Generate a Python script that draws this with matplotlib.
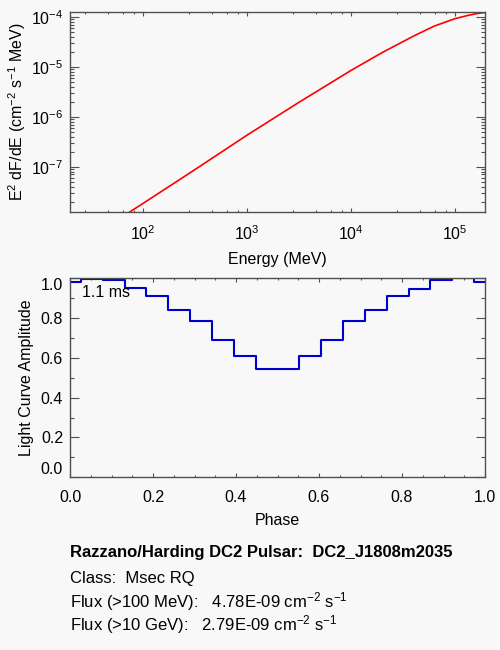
import numpy as np
import matplotlib
matplotlib.use("Agg")
import matplotlib.pyplot as plt
from matplotlib.ticker import FixedLocator, MultipleLocator, NullFormatter

plt.rcParams['font.family'] = ['Liberation Sans', 'DejaVu Sans']
plt.rcParams['mathtext.fontset'] = 'custom'
plt.rcParams['mathtext.rm'] = 'Liberation Sans'
plt.rcParams['mathtext.it'] = 'Liberation Sans'
plt.rcParams['mathtext.bf'] = 'Liberation Sans:bold'

# --- spectrum (E^2 dF/dE) ---
energy_mev = [63, 100, 316, 1000, 3160, 10000, 20000, 40000, 63000,
              100000, 132000, 158000, 195000]
e2_flux = [9.8e-9, 1.82e-8, 8.7e-8, 4.27e-7, 1.95e-6, 8.5e-6, 1.95e-5,
           4.17e-5, 6.6e-5, 9.33e-5, 1.08e-4, 1.17e-4, 1.245e-4]

# --- light curve (20 phase points, k/19) ---
phase = [k / 19 for k in range(20)]
amplitude = [0.978, 0.997, 0.988, 0.948, 0.910, 0.838, 0.786, 0.691, 0.609,
             0.543, 0.543, 0.609, 0.691, 0.786, 0.838, 0.910, 0.946, 0.988,
             0.998, 0.979]
amp_ticks = [0.0, 0.2, 0.4, 0.6, 0.8, 1.0]

period_label = "1.1 ms"
pulsar_name = "DC2_J1808m2035"
pulsar_class = "Msec RQ"
flux_100mev = "4.78E-09"
flux_10gev = "2.79E-09"

bg = '#f8f8f8'
spine_col = '#505050'
tick_fs = 11.5
label_fs = 11.5
info_fs = 12

fig = plt.figure(figsize=(5, 6.5), dpi=100, facecolor=bg)

# ----- top panel: spectrum -----
ax1 = fig.add_axes([0.14, 0.6734, 0.83, 0.3086], facecolor=bg)
ax1.plot(energy_mev, e2_flux, color='#ff0000', lw=1.2)
ax1.set_xscale('log')
ax1.set_yscale('log')
ax1.set_xlim(20, 1.95e5)
ax1.set_ylim(1.22e-8, 1.29e-4)
ax1.xaxis.set_minor_locator(FixedLocator(
    [10.0 ** d * m for d in range(1, 6) for m in (2.8, 4.6, 6.4, 8.2)]))
ax1.xaxis.set_minor_formatter(NullFormatter())
ax1.yaxis.set_major_locator(FixedLocator([1e-7, 1e-6, 1e-5, 1e-4]))
ax1.yaxis.set_minor_locator(FixedLocator(
    [10.0 ** d * m for d in range(-9, -3) for m in range(2, 10)]))
ax1.yaxis.set_minor_formatter(NullFormatter())
ax1.set_xlabel('Energy (MeV)', fontsize=label_fs, labelpad=6)
ax1.set_ylabel(r'E$^2$ dF/dE (cm$^{-2}$ s$^{-1}$ MeV)', fontsize=label_fs,
               labelpad=2)

# ----- bottom panel: light curve -----
ax2 = fig.add_axes([0.14, 0.2657, 0.83, 0.3066], facecolor=bg)
ax2.step(phase, amplitude, where='mid', color='#0000cc', lw=1.5)
ax2.set_xlim(0, 1)
ax2.set_ylim(0, 1)
ax2.xaxis.set_major_locator(MultipleLocator(0.2))
ax2.xaxis.set_minor_locator(MultipleLocator(0.05))
ax2.yaxis.set_major_locator(FixedLocator(amp_ticks))
ax2.yaxis.set_minor_locator(MultipleLocator(0.1))
ax2.xaxis.set_major_formatter(plt.FormatStrFormatter('%.1f'))
ax2.yaxis.set_major_formatter(plt.FormatStrFormatter('%.1f'))
ax2.set_xlabel('Phase', fontsize=label_fs, labelpad=6)
ax2.set_ylabel('Light Curve Amplitude', fontsize=label_fs, labelpad=5)
ax2.text(0.028, 0.928, period_label, fontsize=11.5, va='center', ha='left')

for ax in (ax1, ax2):
    for s in ax.spines.values():
        s.set_color(spine_col)
        s.set_linewidth(1.0)
    ax.tick_params(which='both', direction='in', top=True, right=True,
                   color=spine_col, labelsize=tick_fs, width=0.8)
    ax.tick_params(axis='x', which='major', length=3.2, pad=9)
    ax.tick_params(axis='x', which='minor', length=1.6)
    ax.tick_params(axis='y', which='major', length=6.5, pad=5)
    ax.tick_params(axis='y', which='minor', length=3.2)

# shift end labels of the light curve y axis inward, as in the original
fig.canvas.draw()
ylabs = ax2.get_yticklabels()
ylabs[0].set_va('bottom')
ylabs[-1].set_va('top')

# ----- info text -----
fig.text(0.141, 1 - 553 / 650,
         'Razzano/Harding DC2 Pulsar:  ' + pulsar_name,
         fontsize=info_fs, fontweight='bold', va='center')
fig.text(0.141, 1 - 578 / 650, 'Class:  ' + pulsar_class,
         fontsize=info_fs, va='center')
fig.text(0.141, 1 - 602 / 650,
         'Flux (>100 MeV):   ' + flux_100mev + r' cm$^{-2}$ s$^{-1}$',
         fontsize=info_fs, va='center')
fig.text(0.141, 1 - 625 / 650,
         'Flux (>10 GeV):   ' + flux_10gev + r' cm$^{-2}$ s$^{-1}$',
         fontsize=info_fs, va='center')

fig.savefig('out.png', dpi=100, facecolor=bg)
